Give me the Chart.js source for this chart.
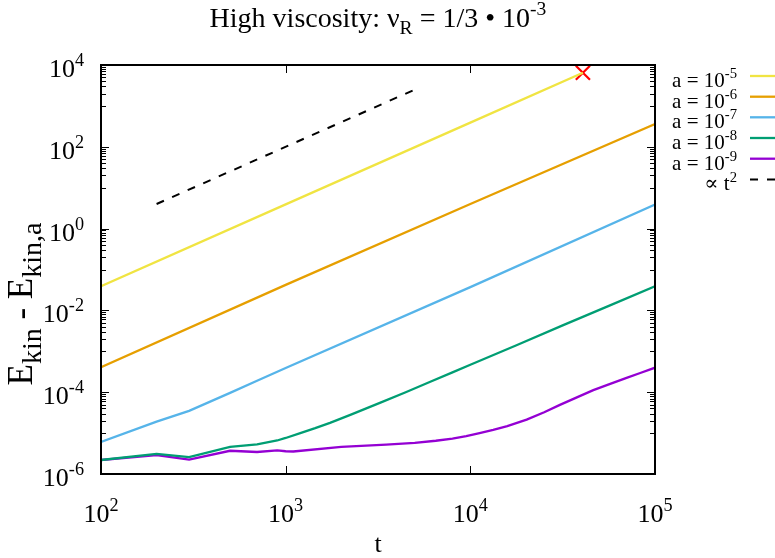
<!DOCTYPE html>
<html>
<head>
    <title>High viscosity</title>
    <script src="https://cdn.jsdelivr.net/npm/chart.js@4.4.1/dist/chart.umd.min.js"></script>
    <style>
        body { margin: 0; background: #fff; }
        canvas { display: block; }
    </style>
</head>
<body>
    <canvas id="myChart" width="775" height="558"></canvas>

    <script>
        // values (t, E_kin - E_kin,a)
        const tA5 = [100, 1000, 10000, 40700];
        const eA5 = [0.039, 3.9, 390, 6460];

        const tA6 = [100, 1000, 10000, 100000];
        const eA6 = [4.1e-4, 4.2e-2, 4.0, 360];

        const tA7 = [100, 200, 300, 500, 700, 1000, 10000, 100000];
        const eA7 = [6.1e-6, 1.9e-5, 3.5e-5, 9.6e-5, 1.9e-4, 3.9e-4, 3.7e-2, 3.9];

        const tA8 = [100, 200, 300, 500, 700, 900, 1000, 1200, 1445, 1738, 2239, 3236, 4467, 6026, 7943, 10000, 17780, 31620, 56230, 100000];
        const eA8 = [2.2e-6, 3.1e-6, 2.6e-6, 4.6e-6, 5.3e-6, 6.6e-6, 7.6e-6, 1.0e-5, 1.32e-5, 1.78e-5, 2.8e-5, 5.5e-5, 1.0e-4, 1.78e-4, 3.0e-4, 4.7e-4, 1.41e-3, 4.3e-3, 1.29e-2, 3.9e-2];

        const tA9 = [100, 200, 300, 500, 700, 900, 1000, 1100, 2000, 3500, 5000, 6500, 8000, 9500, 11220, 13300, 15850, 20180, 25120, 30550, 38020, 46340, 56230, 70150, 83180, 100000];
        const eA9 = [2.2e-6, 2.9e-6, 2.25e-6, 3.7e-6, 3.45e-6, 3.8e-6, 3.6e-6, 3.55e-6, 4.6e-6, 5.2e-6, 5.8e-6, 6.5e-6, 7.3e-6, 8.4e-6, 1.0e-5, 1.2e-5, 1.48e-5, 2.14e-5, 3.24e-5, 4.9e-5, 7.6e-5, 1.12e-4, 1.55e-4, 2.24e-4, 2.95e-4, 3.98e-4];

        const tFit = [200, 5000];
        const eFit = [4.0, 2500];

        const tBlowup = [40700];
        const eBlowup = [6460];

        const xMajor = [1e2, 1e3, 1e4, 1e5];
        const xLabels = ['2', '3', '4', '5'];
        const yMajor = [1e-6, 1e-4, 1e-2, 1e0, 1e2, 1e4];
        const yLabels = ['-6', '-4', '-2', '0', '2', '4'];
        const legendExp = ['-5', '-6', '-7', '-8', '-9'];

        const colA5 = '#f0e442';
        const colA6 = '#e69f00';
        const colA7 = '#56b4e9';
        const colA8 = '#009e73';
        const colA9 = '#9400d3';

        const FONT = "'Liberation Serif', 'DejaVu Serif', serif";

        function pts(ts, es) {
            return ts.map((t, i) => ({ x: t, y: es[i] }));
        }

        function lineSet(label, ts, es, color) {
            return {
                label: label,
                data: pts(ts, es),
                borderColor: color,
                backgroundColor: color,
                borderWidth: 2.3,
                pointRadius: 0,
                showLine: true,
                tension: 0
            };
        }

        // text with superscripts (1) and subscripts (-1)
        function richWidth(ctx, parts, size, sub) {
            let w = 0;
            for (const [txt, k] of parts) {
                ctx.font = (k ? size * sub : size) + 'px ' + FONT;
                w += ctx.measureText(txt).width;
            }
            return w;
        }

        function drawRich(ctx, parts, x, y, size, align, sub) {
            sub = sub || 0.7;
            const w = richWidth(ctx, parts, size, sub);
            let cx = x;
            if (align === 'center') cx = x - w / 2;
            if (align === 'right') cx = x - w;
            ctx.textAlign = 'left';
            ctx.textBaseline = 'alphabetic';
            for (const [txt, k] of parts) {
                ctx.font = (k ? size * sub : size) + 'px ' + FONT;
                let dy = 0;
                if (k === 1) dy = -size * 0.42;
                if (k === -1) dy = size * 0.26;
                ctx.fillText(txt, cx, y + dy);
                cx += ctx.measureText(txt).width;
            }
        }

        const gnuFrame = {
            id: 'gnuFrame',
            afterDraw(chart) {
                const ctx = chart.ctx;
                const a = chart.chartArea;
                const xs = chart.scales.x;
                const ys = chart.scales.y;
                ctx.save();
                ctx.fillStyle = '#000';
                ctx.strokeStyle = '#000';

                // tick marks, inward, mirrored
                ctx.lineWidth = 1;
                ctx.beginPath();
                for (const v of xMajor) {
                    const px = Math.round(xs.getPixelForValue(v)) + 0.5;
                    ctx.moveTo(px, a.bottom); ctx.lineTo(px, a.bottom - 8);
                    ctx.moveTo(px, a.top); ctx.lineTo(px, a.top + 8);
                }
                for (let e = -6; e <= 4; e++) {
                    if (e % 2 === 0) {
                        const py = Math.round(ys.getPixelForValue(Math.pow(10, e))) + 0.5;
                        ctx.moveTo(a.left, py); ctx.lineTo(a.left + 8, py);
                        ctx.moveTo(a.right, py); ctx.lineTo(a.right - 8, py);
                    } else {
                        for (let k = 1; k <= 9; k++) {
                            const py = Math.round(ys.getPixelForValue(k * Math.pow(10, e))) + 0.5;
                            ctx.moveTo(a.left, py); ctx.lineTo(a.left + 5, py);
                            ctx.moveTo(a.right, py); ctx.lineTo(a.right - 5, py);
                        }
                    }
                }
                ctx.stroke();

                // border
                ctx.lineWidth = 2;
                ctx.strokeRect(a.left, a.top, a.right - a.left, a.bottom - a.top);

                // tick labels
                xMajor.forEach((v, i) => {
                    drawRich(ctx, [['10', 0], [xLabels[i], 1]], xs.getPixelForValue(v), 522, 26, 'center');
                });
                yMajor.forEach((v, i) => {
                    drawRich(ctx, [['10', 0], [yLabels[i], 1]], 84, ys.getPixelForValue(v) + 12, 26, 'right');
                });

                // title
                drawRich(ctx, [['High viscosity: \u03bd', 0], ['R', -1], [' = 1/3 \u2022 10', 0], ['-3', 1]],
                    (a.left + a.right) / 2, 27, 28, 'center');

                // axis labels
                drawRich(ctx, [['t', 0]], (a.left + a.right) / 2, 552, 26, 'center');
                ctx.save();
                ctx.translate(32, 304);
                ctx.rotate(-Math.PI / 2);
                drawRich(ctx, [['E', 0], ['kin', -1], [' - E', 0], ['kin,a', -1]], 0, 0, 35, 'center', 0.8);
                ctx.restore();

                // key
                const cols = [colA5, colA6, colA7, colA8, colA9];
                const rowY = [76, 96.7, 117.3, 138, 158.7, 179.4];
                ctx.lineWidth = 2.3;
                cols.forEach((c, i) => {
                    drawRich(ctx, [['a = 10', 0], [legendExp[i], 1]], 737, rowY[i] + 11, 21, 'right');
                    ctx.strokeStyle = c;
                    ctx.beginPath();
                    ctx.moveTo(750, rowY[i]); ctx.lineTo(775, rowY[i]);
                    ctx.stroke();
                });
                drawRich(ctx, [['\u221d t', 0], ['2', 1]], 737, rowY[5] + 11, 21, 'right');
                ctx.strokeStyle = '#000';
                ctx.lineWidth = 2;
                ctx.setLineDash([8, 9]);
                ctx.beginPath();
                ctx.moveTo(750, rowY[5]); ctx.lineTo(775, rowY[5]);
                ctx.stroke();
                ctx.restore();
            }
        };

        const fitSet = lineSet('\u221d t^2', tFit, eFit, '#000');
        fitSet.borderDash = [8, 9];
        fitSet.borderWidth = 2;

        const ctx = document.getElementById('myChart');
        const myChart = new Chart(ctx, {
            type: 'scatter',
            data: {
                datasets: [
                    lineSet('a = 10^-5', tA5, eA5, colA5),
                    lineSet('a = 10^-6', tA6, eA6, colA6),
                    lineSet('a = 10^-7', tA7, eA7, colA7),
                    lineSet('a = 10^-8', tA8, eA8, colA8),
                    lineSet('a = 10^-9', tA9, eA9, colA9),
                    fitSet,
                    {
                        label: 'blow-up',
                        data: pts(tBlowup, eBlowup),
                        pointStyle: 'crossRot',
                        pointRadius: 10,
                        borderColor: '#ff0000',
                        borderWidth: 2.2,
                        showLine: false,
                        clip: false
                    }
                ]
            },
            options: {
                responsive: false,
                animation: false,
                layout: { padding: { left: 101, right: 120, top: 65, bottom: 84 } },
                scales: {
                    x: { type: 'logarithmic', min: 1e2, max: 1e5, display: false },
                    y: { type: 'logarithmic', min: 1e-6, max: 1e4, display: false }
                },
                plugins: {
                    legend: { display: false },
                    tooltip: { enabled: false }
                }
            },
            plugins: [gnuFrame]
        });
    </script>
</body>
</html>
